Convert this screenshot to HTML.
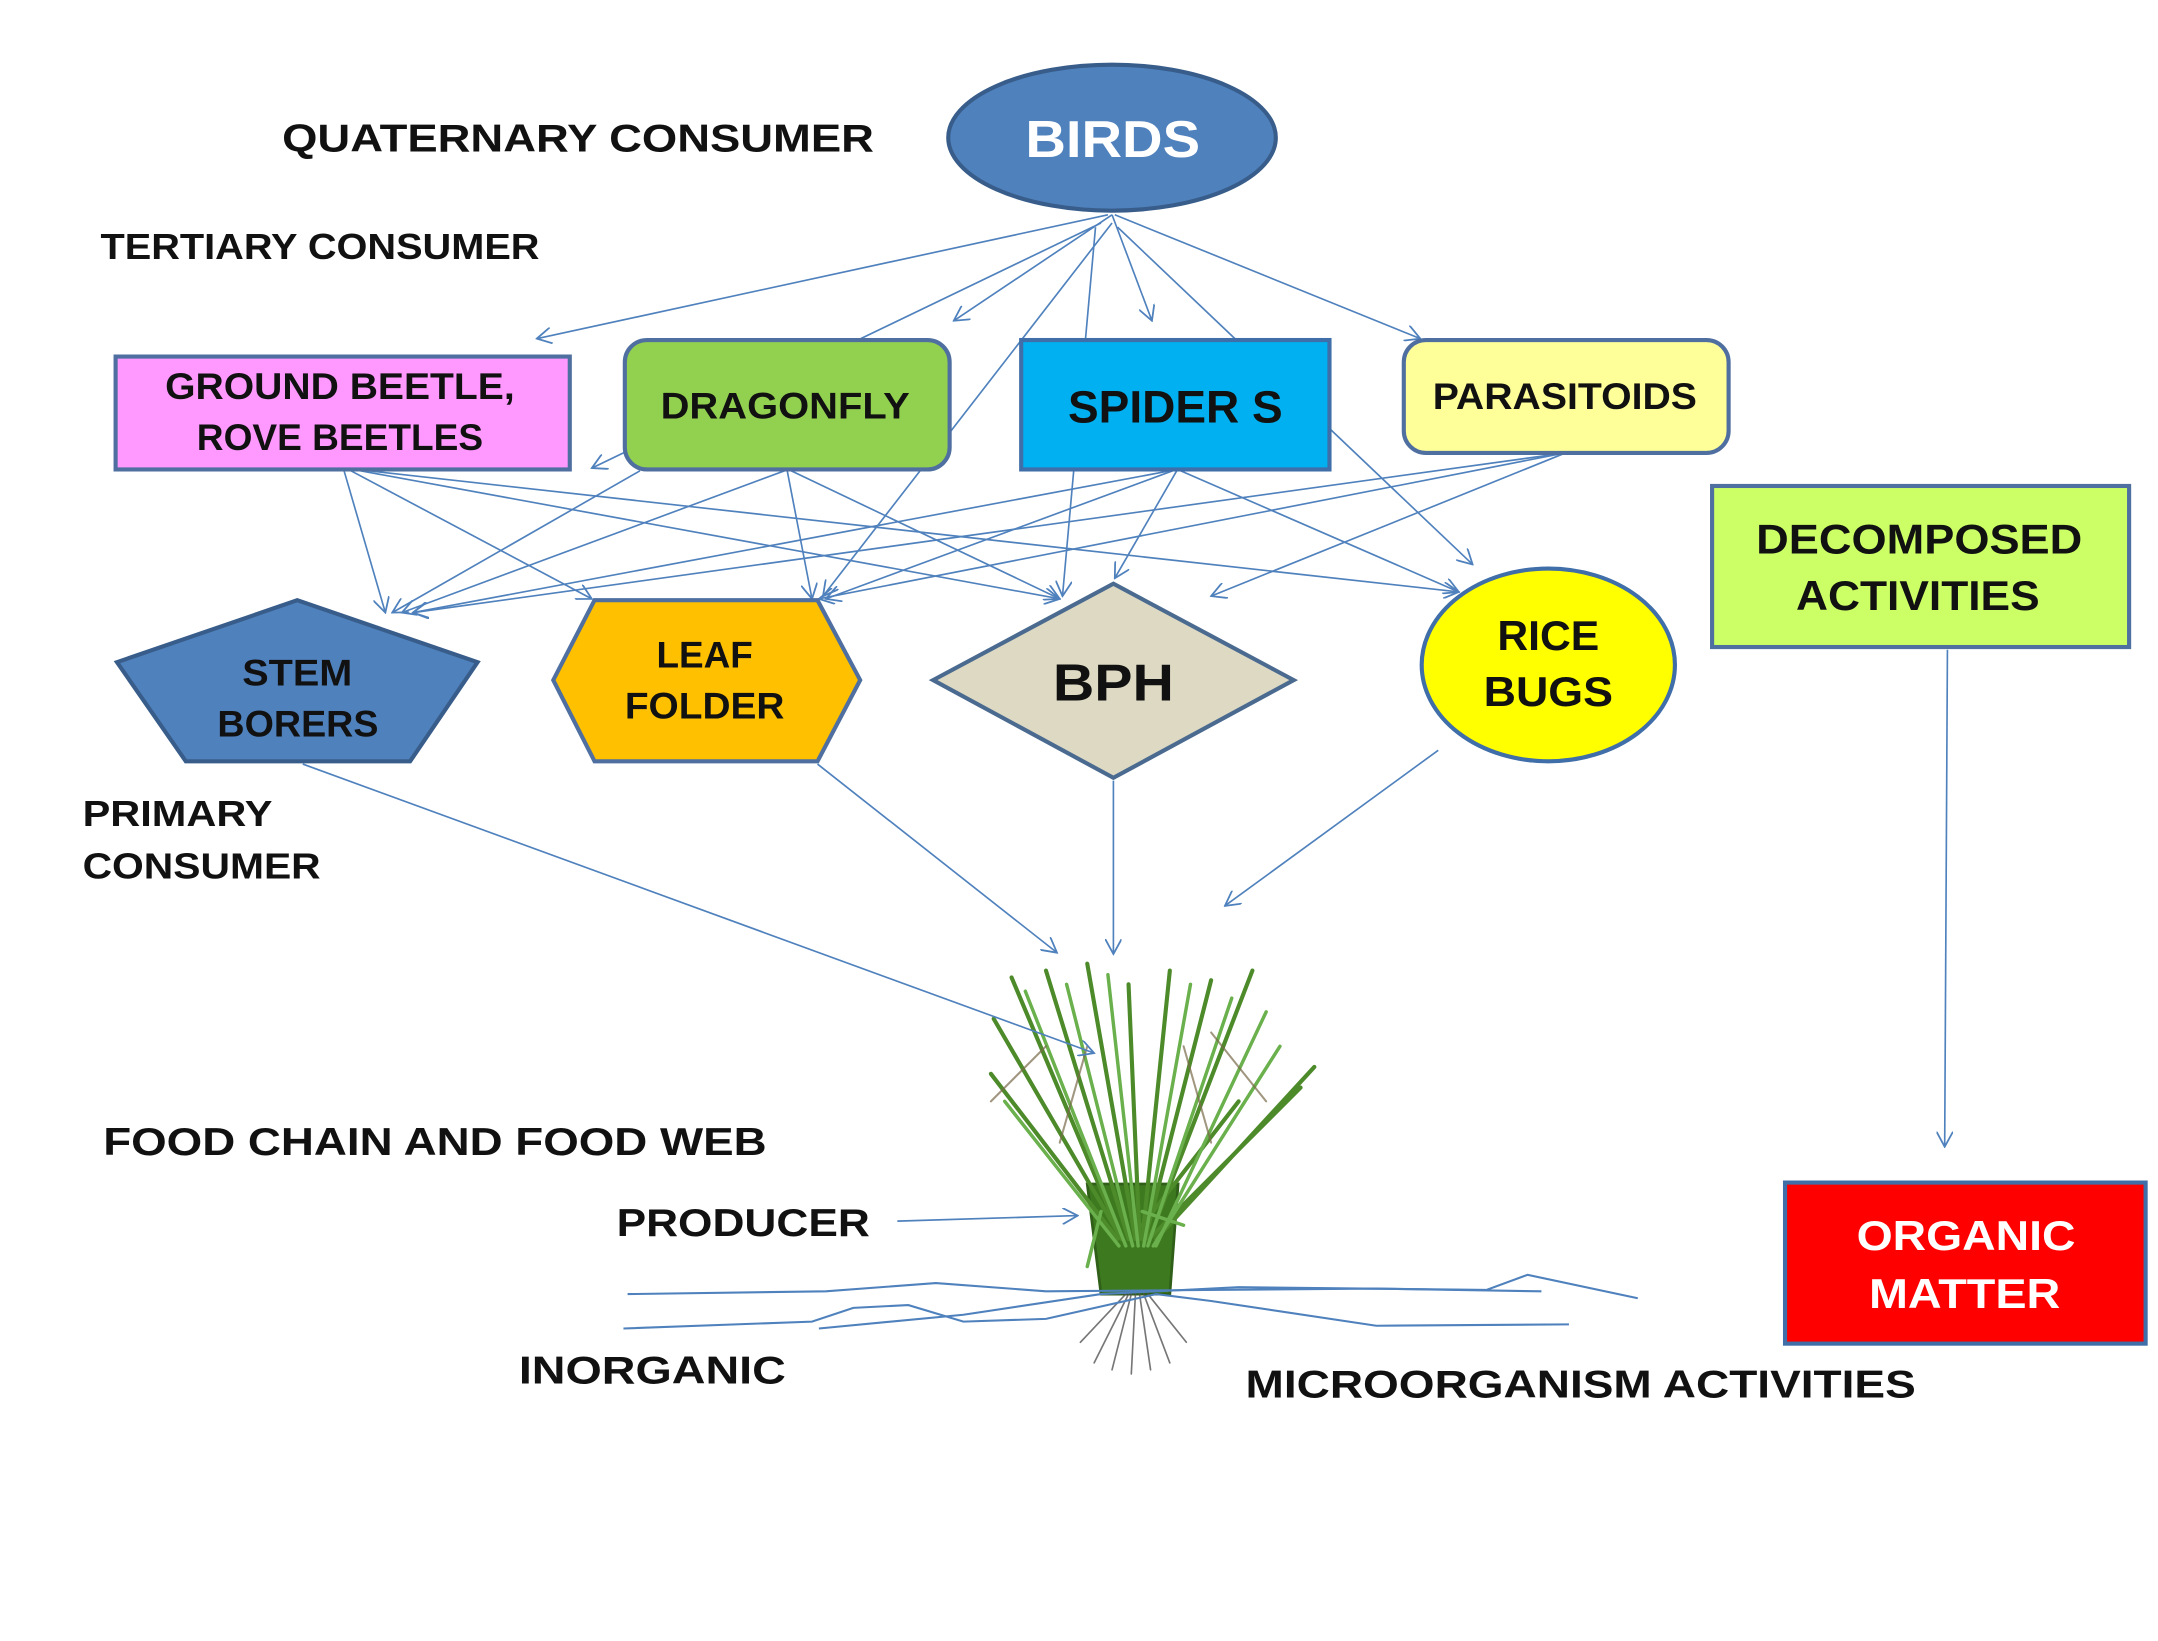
<!DOCTYPE html>
<html><head><meta charset="utf-8"><style>
html,body{margin:0;padding:0;background:#fff;}
svg{display:block;}
text{font-family:"Liberation Sans",sans-serif;font-weight:bold;}
</style></head><body>
<svg width="2158" height="1641" viewBox="0 0 1568 1192" preserveAspectRatio="none" xmlns="http://www.w3.org/2000/svg">
<defs>
<marker id="a" viewBox="0 0 12 12" refX="11" refY="6" markerWidth="12" markerHeight="12" markerUnits="userSpaceOnUse" orient="auto">
<path d="M0,0 L11,6 L0,12" fill="none" stroke="#4f81bd" stroke-width="1.3"/>
</marker>
</defs>
<rect width="1568" height="1192" fill="#fff"/>

<!-- plant -->
<g stroke-linecap="round" fill="none">
<path d="M790,860 L800,940 L850,940 L856,860 Z" fill="#3d7a1f" stroke="#2f5f18" stroke-width="2"/>
<g stroke="#4d8a2a" stroke-width="3">
<line x1="815" y1="900" x2="735" y2="710"/><line x1="820" y1="900" x2="760" y2="705"/>
<line x1="825" y1="900" x2="790" y2="700"/><line x1="828" y1="900" x2="820" y2="715"/>
<line x1="830" y1="900" x2="850" y2="705"/><line x1="832" y1="900" x2="880" y2="712"/>
<line x1="835" y1="900" x2="910" y2="705"/><line x1="835" y1="900" x2="945" y2="790"/>
<line x1="812" y1="900" x2="720" y2="780"/><line x1="815" y1="900" x2="722" y2="740"/>
<line x1="840" y1="900" x2="955" y2="775"/><line x1="830" y1="890" x2="900" y2="800"/>
</g>
<g stroke="#6ab04c" stroke-width="2.5">
<line x1="818" y1="905" x2="745" y2="720"/><line x1="823" y1="905" x2="775" y2="715"/>
<line x1="827" y1="905" x2="805" y2="708"/><line x1="831" y1="905" x2="865" y2="715"/>
<line x1="834" y1="905" x2="895" y2="725"/><line x1="838" y1="905" x2="930" y2="760"/>
<line x1="813" y1="905" x2="730" y2="800"/><line x1="840" y1="905" x2="920" y2="735"/>
<line x1="800" y1="880" x2="790" y2="920"/><line x1="830" y1="880" x2="860" y2="890"/>
</g>
<g stroke="#7a6a4a" stroke-width="1.5" opacity="0.7">
<line x1="760" y1="760" x2="720" y2="800"/><line x1="880" y1="750" x2="920" y2="800"/>
<line x1="790" y1="760" x2="770" y2="830"/><line x1="860" y1="760" x2="880" y2="830"/>
</g>
<g stroke="#555" stroke-width="1.2" opacity="0.8">
<line x1="820" y1="940" x2="795" y2="990"/><line x1="822" y1="940" x2="808" y2="995"/>
<line x1="825" y1="940" x2="822" y2="998"/><line x1="828" y1="940" x2="836" y2="995"/>
<line x1="831" y1="940" x2="850" y2="990"/><line x1="818" y1="940" x2="785" y2="975"/>
<line x1="834" y1="940" x2="862" y2="975"/>
</g>
</g>

<!-- ground lines -->
<g fill="none" stroke="#4f81bd" stroke-width="1.5">
<path d="M456,940 L600,938 L680,932 L760,938 L1000,936 L1120,938"/>
<path d="M453,965 L590,960 L620,950 L660,948 L700,960 L760,958 L840,940 L880,945 L1000,963 L1140,962"/>
<path d="M595,965 L700,955 L800,940 L900,935 L1080,937 L1110,926 L1190,943"/>
</g>

<!-- arrows -->
<g stroke="#4f81bd" stroke-width="1.2" fill="none" marker-end="url(#a)">
<line x1="805" y1="156" x2="390" y2="246"/>
<line x1="808" y1="156" x2="693" y2="233"/>
<line x1="808" y1="156" x2="837" y2="233"/>
<line x1="810" y1="156" x2="1032" y2="246"/>
<line x1="800" y1="162" x2="430" y2="340"/>
<line x1="808" y1="162" x2="598" y2="433"/>
<line x1="796" y1="165" x2="772" y2="433"/>
<line x1="812" y1="165" x2="1070" y2="410"/>
<line x1="250" y1="342" x2="280" y2="445"/>
<line x1="255" y1="342" x2="430" y2="435"/>
<line x1="262" y1="342" x2="770" y2="435"/>
<line x1="268" y1="342" x2="1060" y2="430"/>
<line x1="570" y1="342" x2="292" y2="445"/>
<line x1="572" y1="342" x2="590" y2="435"/>
<line x1="575" y1="342" x2="770" y2="435"/>
<line x1="465" y1="342" x2="285" y2="445"/>
<line x1="850" y1="342" x2="300" y2="445"/>
<line x1="852" y1="342" x2="600" y2="435"/>
<line x1="855" y1="342" x2="810" y2="420"/>
<line x1="858" y1="342" x2="1060" y2="430"/>
<line x1="1130" y1="330" x2="300" y2="445"/>
<line x1="1132" y1="330" x2="595" y2="435"/>
<line x1="1135" y1="330" x2="880" y2="433"/>
<line x1="220" y1="555" x2="795" y2="765"/>
<line x1="594" y1="555" x2="768" y2="692"/>
<line x1="809" y1="567" x2="809" y2="693"/>
<line x1="1045" y1="545" x2="890" y2="658"/>
<line x1="652" y1="887" x2="783" y2="883"/>
<line x1="1415" y1="472" x2="1413" y2="833"/>
</g>

<!-- nodes -->
<ellipse cx="808" cy="100" rx="119" ry="53" fill="#4f81bd" stroke="#385d8a" stroke-width="3"/>
<text x="745" y="114" font-size="38" fill="#fff" textLength="127" lengthAdjust="spacingAndGlyphs">BIRDS</text>

<rect x="84" y="259" width="330" height="82" fill="#ff99ff" stroke="#4f6fa0" stroke-width="3"/>
<text x="120" y="290" font-size="27" fill="#111" textLength="254" lengthAdjust="spacingAndGlyphs">GROUND BEETLE,</text>
<text x="143" y="327" font-size="27" fill="#111" textLength="208" lengthAdjust="spacingAndGlyphs">ROVE BEETLES</text>

<rect x="454" y="247" width="236" height="94" rx="16" fill="#92d050" stroke="#4f6fa0" stroke-width="3"/>
<text x="480" y="304" font-size="27" fill="#111" textLength="181" lengthAdjust="spacingAndGlyphs">DRAGONFLY</text>

<rect x="742" y="247" width="224" height="94" fill="#00b0f0" stroke="#3f6ea8" stroke-width="3"/>
<text x="776" y="307" font-size="33" fill="#111" textLength="156" lengthAdjust="spacingAndGlyphs">SPIDER S</text>

<rect x="1020" y="247" width="236" height="82" rx="16" fill="#ffff99" stroke="#4f6fa0" stroke-width="3"/>
<text x="1041" y="297" font-size="27" fill="#111" textLength="192" lengthAdjust="spacingAndGlyphs">PARASITOIDS</text>

<rect x="1244" y="353" width="303" height="117" fill="#ccff66" stroke="#4f6fa0" stroke-width="3"/>
<text x="1276" y="402" font-size="30" fill="#111" textLength="237" lengthAdjust="spacingAndGlyphs">DECOMPOSED</text>
<text x="1305" y="443" font-size="30" fill="#111" textLength="177" lengthAdjust="spacingAndGlyphs">ACTIVITIES</text>

<polygon points="216,436 347,481 298,553 135,553 85,481" fill="#4f81bd" stroke="#385d8a" stroke-width="3"/>
<text x="176" y="498" font-size="27" fill="#111" textLength="80" lengthAdjust="spacingAndGlyphs">STEM</text>
<text x="158" y="535" font-size="27" fill="#111" textLength="117" lengthAdjust="spacingAndGlyphs">BORERS</text>

<polygon points="432,436 594,436 625,494 594,553 432,553 402,494" fill="#ffc000" stroke="#4f6fa0" stroke-width="3"/>
<text x="477" y="485" font-size="27" fill="#111" textLength="70" lengthAdjust="spacingAndGlyphs">LEAF</text>
<text x="454" y="522" font-size="27" fill="#111" textLength="116" lengthAdjust="spacingAndGlyphs">FOLDER</text>

<polygon points="809,424 940,494 809,565 678,494" fill="#ddd9c3" stroke="#4a6a90" stroke-width="3"/>
<text x="765" y="509" font-size="38" fill="#111" textLength="88" lengthAdjust="spacingAndGlyphs">BPH</text>

<ellipse cx="1125" cy="483" rx="92" ry="70" fill="#ffff00" stroke="#3f6ea8" stroke-width="3"/>
<text x="1088" y="472" font-size="30" fill="#111" textLength="74" lengthAdjust="spacingAndGlyphs">RICE</text>
<text x="1078" y="513" font-size="30" fill="#111" textLength="94" lengthAdjust="spacingAndGlyphs">BUGS</text>

<rect x="1297" y="859" width="262" height="117" fill="#ff0000" stroke="#3f6ea8" stroke-width="3"/>
<text x="1349" y="908" font-size="30" fill="#fff" textLength="159" lengthAdjust="spacingAndGlyphs">ORGANIC</text>
<text x="1358" y="950" font-size="30" fill="#fff" textLength="139" lengthAdjust="spacingAndGlyphs">MATTER</text>

<!-- labels -->
<g fill="#111">
<text x="205" y="110" font-size="28" textLength="430" lengthAdjust="spacingAndGlyphs">QUATERNARY CONSUMER</text>
<text x="73" y="188" font-size="26" textLength="319" lengthAdjust="spacingAndGlyphs">TERTIARY CONSUMER</text>
<text x="60" y="600" font-size="26" textLength="138" lengthAdjust="spacingAndGlyphs">PRIMARY</text>
<text x="60" y="638" font-size="26" textLength="173" lengthAdjust="spacingAndGlyphs">CONSUMER</text>
<text x="75" y="839" font-size="28" textLength="482" lengthAdjust="spacingAndGlyphs">FOOD CHAIN AND FOOD WEB</text>
<text x="448" y="898" font-size="28" textLength="184" lengthAdjust="spacingAndGlyphs">PRODUCER</text>
<text x="377" y="1005" font-size="28" textLength="194" lengthAdjust="spacingAndGlyphs">INORGANIC</text>
<text x="905" y="1015" font-size="28" textLength="487" lengthAdjust="spacingAndGlyphs">MICROORGANISM ACTIVITIES</text>
</g>
</svg>
</body></html>
